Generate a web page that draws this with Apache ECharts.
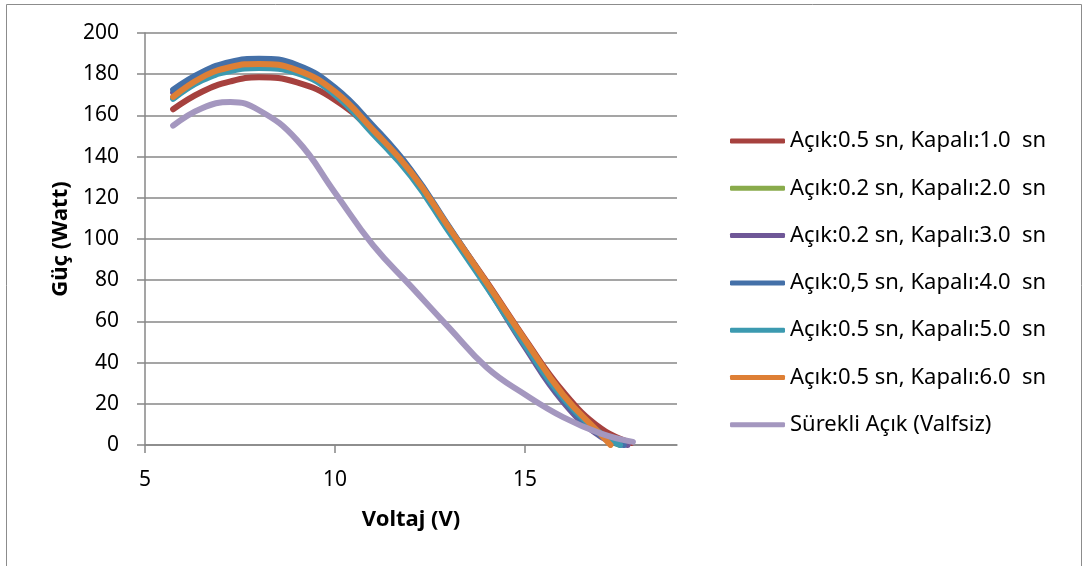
<!DOCTYPE html>
<html>
<head>
<meta charset="utf-8">
<script src="https://cdn.jsdelivr.net/npm/echarts@6/dist/echarts.min.js"></script>
<style>
  html, body { margin: 0; padding: 0; background: #ffffff; }
  #chart { width: 1084px; height: 566px; }
</style>
</head>
<body>
<div id="chart"></div>
<script>
// Güç – Voltaj eğrileri: valf açık/kapalı süre kombinasyonları
const seriesNames = [
  'Açık:0.5 sn, Kapalı:1.0  sn',
  'Açık:0.2 sn, Kapalı:2.0  sn',
  'Açık:0.2 sn, Kapalı:3.0  sn',
  'Açık:0,5 sn, Kapalı:4.0  sn',
  'Açık:0.5 sn, Kapalı:5.0  sn',
  'Açık:0.5 sn, Kapalı:6.0  sn',
  'Sürekli Açık (Valfsiz)'
];

const seriesColors = ['#A6413E', '#89AB4B', '#6F5797', '#4470A8', '#3C9AB0', '#DE7F35', '#A497BF'];

// [Voltaj (V), Güç (Watt)]
const kapali10 = [[5.74,163],[6.5,171.5],[7.25,176.5],[8,178.5],[9,176],[10,167.5],[11,152],[12,132],[13,105.5],[14,79],[15,51.5],[16,26],[17,8],[17.8,1]];
const kapali20 = [[5.74,168.5],[6.5,177.5],[7.25,182.5],[8,184],[9,181.5],[10,171],[11,152.5],[12,132],[13,105],[14,78],[15,50],[16,24],[17,5],[17.5,0]];
const kapali30 = [[5.74,171],[6.5,180],[7.25,185],[8,186.5],[9,183.5],[10,172.5],[11,154],[12,133],[13,105],[14,77],[15,47.5],[16,21],[17,4],[17.7,0]];
const kapali40 = [[5.74,172.5],[6.5,181],[7.25,186],[8,187.5],[9,184.5],[10,173.5],[11,155],[12,133.5],[13,106],[14,78],[15,48.5],[16,22],[17,4.5],[17.6,0]];
const kapali50 = [[5.74,168],[6.5,177],[7.25,181.5],[8,183],[9,180.5],[10,170],[11,151],[12,130.5],[13,103.5],[14,76.5],[15,48.5],[16,23],[17,5.5],[17.5,0]];
const kapali60 = [[5.74,169],[6.5,178.5],[7.25,183.5],[8,185],[9,182],[10,171.5],[11,153],[12,132.5],[13,105.5],[14,78.5],[15,51],[16,24.5],[17,5],[17.25,0]];
const valfsiz = [[5.74,155],[6.5,163.5],[7.25,166.5],[8,162.5],[9,148],[10,122.5],[11,97],[12,77],[13,57],[14,37.5],[15,24.5],[16,13.5],[17,5.5],[17.84,1.5]];

const seriesData = [kapali10, kapali20, kapali30, kapali40, kapali50, kapali60, valfsiz];

const xTicks = [5, 10, 15];

const FONT = '"Noto Sans"';
const axisGray = '#878787';

const chart = echarts.init(document.getElementById('chart'), null, { renderer: 'canvas' });

chart.setOption({
  animation: false,
  backgroundColor: '#ffffff',
  textStyle: { fontFamily: FONT },
  graphic: [{
    type: 'rect',
    shape: { x: 6.5, y: 4.5, width: 1075, height: 620 },
    style: { fill: 'none', stroke: '#8c8c8c', lineWidth: 1 },
    silent: true
  }],
  grid: { left: 145, right: 407, top: 33, bottom: 121 },
  xAxis: {
    type: 'value',
    min: 5,
    max: 19,
    interval: 5,
    name: 'Voltaj (V)',
    nameLocation: 'middle',
    nameGap: 64,
    nameTextStyle: { fontFamily: FONT, fontSize: 22, fontWeight: 'bold', color: '#000' },
    axisLine: { show: true, onZero: false, lineStyle: { color: axisGray, width: 1.5 } },
    axisTick: { show: true, length: 8, inside: false, customValues: xTicks, lineStyle: { color: axisGray, width: 1.5 } },
    axisLabel: { customValues: xTicks, margin: 25, fontFamily: FONT, fontSize: 21, color: '#000' },
    splitLine: { show: false }
  },
  yAxis: {
    type: 'value',
    min: 0,
    max: 200,
    interval: 20,
    name: 'Güç (Watt)',
    nameLocation: 'middle',
    nameGap: 73,
    nameRotate: 90,
    nameTextStyle: { fontFamily: FONT, fontSize: 22, fontWeight: 'bold', color: '#000' },
    axisLine: { show: true, lineStyle: { color: axisGray, width: 1.5 } },
    axisTick: { show: true, length: 8, lineStyle: { color: axisGray, width: 1.5 } },
    axisLabel: { margin: 26, fontFamily: FONT, fontSize: 21, color: '#000' },
    splitLine: { show: true, lineStyle: { color: axisGray, width: 1.5 } }
  },
  legend: {
    orient: 'vertical',
    left: 730,
    top: 129,
    padding: 0,
    itemWidth: 55,
    itemHeight: 5,
    itemGap: 23.3,
    icon: 'roundRect',
    textStyle: { fontFamily: FONT, fontSize: 22, color: '#000', lineHeight: 24 },
    data: seriesNames
  },
  series: seriesNames.map((name, i) => ({
    name: name,
    type: 'line',
    data: seriesData[i],
    smooth: 0.45,
    showSymbol: false,
    symbol: 'none',
    color: seriesColors[i],
    lineStyle: { width: 6, color: seriesColors[i], cap: 'round', join: 'round' },
    z: 2 + i
  }))
});
</script>
</body>
</html>
